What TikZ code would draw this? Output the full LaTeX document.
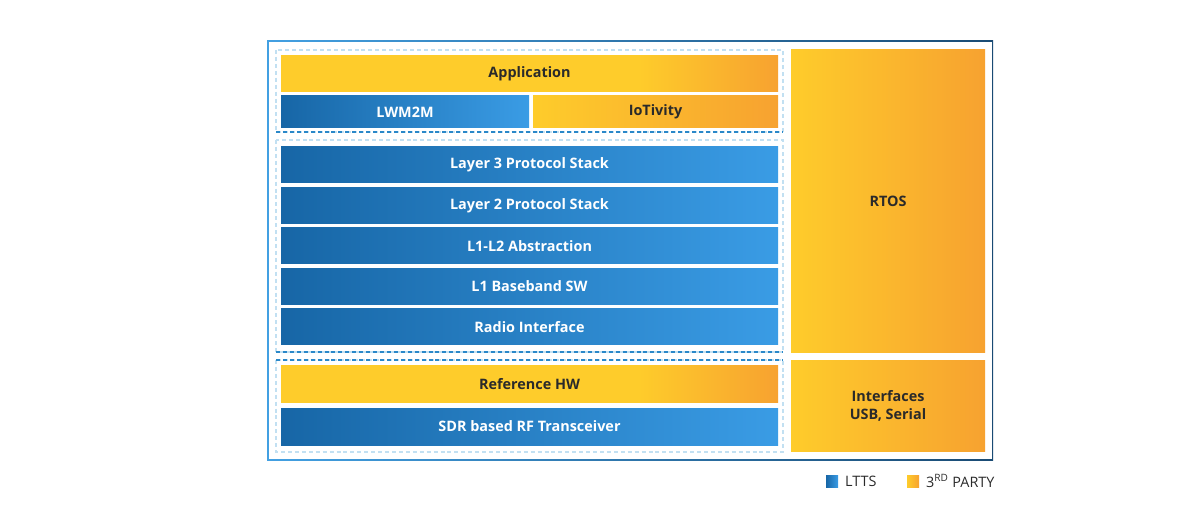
\documentclass[tikz,border=0pt]{standalone}
\usepackage{fontspec}
\setmainfont{Open Sans}
\usepackage{tikz}
\usetikzlibrary{positioning,calc}
\definecolor{bluL}{HTML}{1766A6}
\definecolor{bluR}{HTML}{3A9CE5}
\definecolor{ylw}{HTML}{FECC2B}
\definecolor{org}{HTML}{F7A230}
\definecolor{frmL}{HTML}{43A0E2}
\definecolor{frmR}{HTML}{1A4B74}
\definecolor{dashL}{HTML}{C2E0F2}
\definecolor{dashD}{HTML}{2A88C9}
\definecolor{txt}{HTML}{2A2A2A}
\pgfdeclarehorizontalshading{appshade}{100bp}{color(0bp)=(ylw); color(61bp)=(ylw); color(75bp)=(org); color(100bp)=(org)}

\begin{document}
\begin{tikzpicture}[x=0.75pt,y=-0.75pt,
  every node/.style={inner sep=0pt,font=\fontsize{10.8}{13.5}\selectfont\bfseries},
  blu/.style={rectangle,left color=bluL,right color=bluR,text=white,minimum width=372.75pt,minimum height=27pt},
  ylwbar/.style={rectangle,shading=appshade,text=txt,minimum width=372.75pt,minimum height=27pt},
  ylwbox/.style={rectangle,left color=ylw,right color=org,text=txt,minimum width=145.5pt},
  grp/.style={draw=dashL,dash pattern=on 3pt off 2.2pt,line width=0.8pt},
  grpedge/.style={draw=dashD,dash pattern=on 3pt off 2.2pt,line width=0.8pt},
  key/.style={rectangle,minimum width=9pt,minimum height=9pt},
  keytxt/.style={font=\fontsize{10.8}{13}\selectfont,text=txt}]
\useasboundingbox (0,0) rectangle (1200,527);

% frame
\shade[left color=frmL,right color=frmR] (267,41) rectangle (993,460);
\fill[white] (268.5,42.5) rectangle (991.5,458.5);

% dashed groups
\draw[grp] (276,50) rectangle (783,132);
\draw[grpedge] (276,132) -- (783,132);
\draw[grp] (276,140) rectangle (783,352);
\draw[grpedge] (276,352) -- (783,352);
\draw[grp] (276,360) rectangle (783,452);
\draw[grpedge] (276,360) -- (783,360);

% applications
\node (app) at (529.5,74) [ylwbar] {Application};
\node (lwm) at (405,112) [blu,minimum width=186pt,minimum height=24pt] {LWM2M};
\node (iot) at (655.5,112) [ylwbox,minimum width=183.75pt,minimum height=24pt] {IoTivity};

% protocol stack
\node (l3) at (529.5,165) [blu] {Layer 3 Protocol Stack};
\node (l2) at (529.5,205.5) [blu] {Layer 2 Protocol Stack};
\node (abs) at (529.5,246) [blu] {L1-L2 Abstraction};
\node (bb) at (529.5,286.5) [blu] {L1 Baseband SW};
\node (radio) at (529.5,327) [blu] {Radio Interface};

% hardware
\node (hw) at (529.5,384) [ylwbar] {Reference HW};
\node (sdr) at (529.5,426.5) [blu,minimum height=27.75pt] {SDR based RF Transceiver};

% side
\node (rtos) at (888,201.5) [ylwbox,minimum height=227.25pt] {RTOS};
\node (intf) at (888,406) [ylwbox,minimum height=67.5pt,align=center] {Interfaces\\USB, Serial};

% legend
\node (k1) at (832,481) [key,left color=bluL,right color=bluR] {};
\node (k1t) [right=5pt of k1,keytxt] {LTTS};
\node (k2) at (913,481) [key,left color=ylw,right color=org] {};
\node (k2t) [right=5pt of k2,keytxt] {3\textsuperscript{RD} PARTY};
\end{tikzpicture}
\end{document}
